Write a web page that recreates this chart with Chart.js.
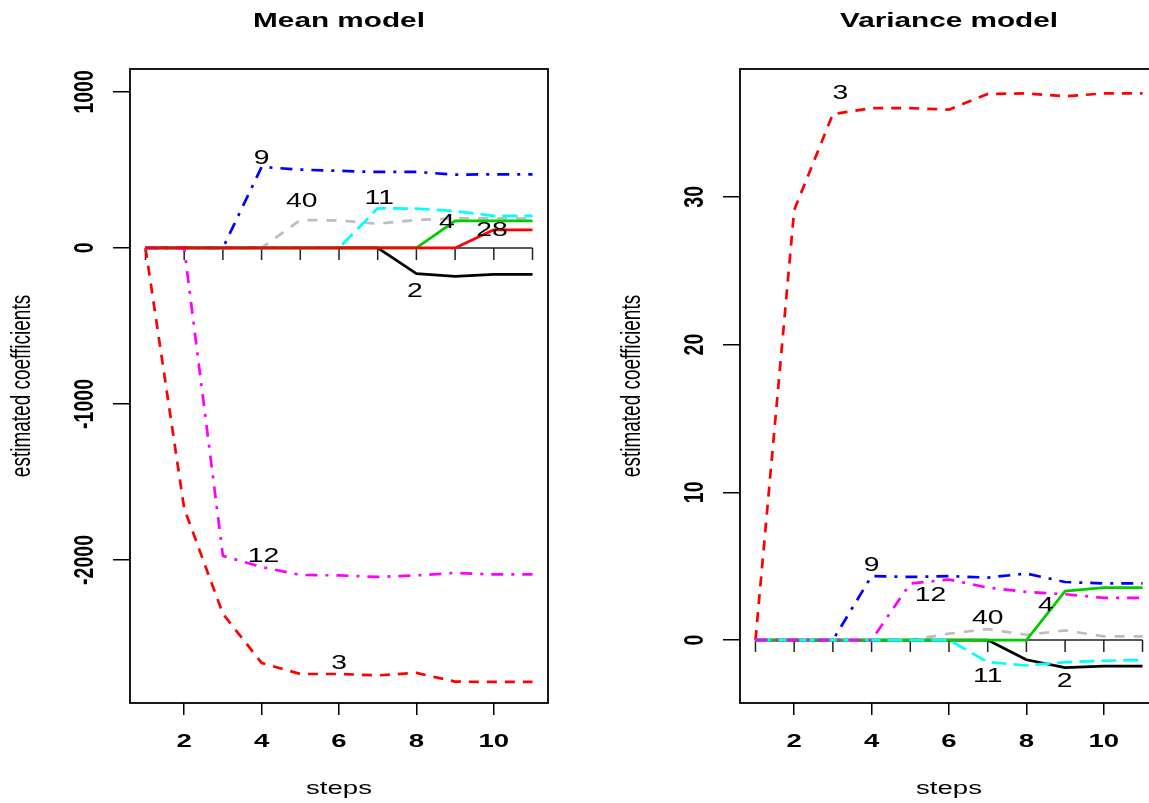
<!DOCTYPE html>
<html>
<head>
<meta charset="utf-8">
<script src="https://cdn.jsdelivr.net/npm/chart.js@4.4.1/dist/chart.umd.min.js"></script>
<style>
  html, body { margin: 0; padding: 0; background: #fff; overflow: hidden; width: 1149px; height: 803px; }
  canvas { position: absolute; top: 0; }
  #mean { left: 0; }
  #variance { left: 610px; }
</style>
</head>
<body>
<canvas id="mean" width="610" height="803"></canvas>
<canvas id="variance" width="610" height="803"></canvas>
<script>
// steps on the x axis
var steps = [1, 2, 3, 4, 5, 6, 7, 8, 9, 10, 11];
var xTickValues = [2, 4, 6, 8, 10];

// Mean model coefficient paths (one array per variable)
var mean2  = [0, 0, 0, 0, 0, 0, 0, -165, -182, -169, -169];
var mean3  = [0, -1670, -2345, -2660, -2731, -2731, -2740, -2724, -2780, -2782, -2782];
var mean4  = [0, 0, 0, 0, 0, 0, 0, 0, 174, 174, 174];
var mean9  = [0, 0, 0, 519, 502, 494, 487, 487, 470, 472, 472];
var mean11 = [0, 0, 0, 0, 0, 0, 254, 252, 236, 206, 206];
var mean12 = [0, 0, -1974, -2045, -2096, -2099, -2109, -2099, -2083, -2093, -2093];
var mean28 = [0, 0, 0, 0, 0, 0, 0, 0, 0, 116, 116];
var mean40 = [0, 0, 0, 0, 179, 176, 155, 180, 189, 189, 189];
var meanYTicks = [-2000, -1000, 0, 1000];
var meanLabelText  = ["9", "40", "11", "4", "28", "12", "3", "2"];
var meanLabelStep  = [4.0, 5.04, 7.04, 8.79, 9.95, 4.05, 6.0, 7.96];
var meanLabelValue = [575, 297, 319, 163, 110, -1977, -2667, -282];

// Variance model coefficient paths
var var2  = [0, 0, 0, 0, 0, 0, 0, -1.33, -1.87, -1.76, -1.76];
var var3  = [0, 29.1, 35.6, 36.0, 36.0, 35.9, 36.96, 37.0, 36.8, 37.0, 37.0];
var var4  = [0, 0, 0, 0, 0, 0, 0, 0, 3.31, 3.55, 3.55];
var var9  = [0, 0, 0, 4.33, 4.27, 4.33, 4.23, 4.5, 3.93, 3.83, 3.83];
var var11 = [0, 0, 0, 0, 0, 0, -1.49, -1.72, -1.5, -1.4, -1.35];
var var12 = [0, 0, 0, 0, 3.83, 4.1, 3.55, 3.26, 3.1, 2.85, 2.85];
var var40 = [0, 0, 0, 0, 0, 0.43, 0.74, 0.36, 0.65, 0.25, 0.25];
var varYTicks = [0, 10, 20, 30];
var varLabelText  = ["3", "9", "12", "40", "4", "11", "2"];
var varLabelStep  = [3.19, 4.0, 5.52, 7.0, 8.5, 7.0, 8.99];
var varLabelValue = [37.0, 5.07, 3.03, 1.45, 2.35, -2.5, -2.84];

// line look per variable
var styles = {
  "2":  { color: "#000000", dash: [] },
  "3":  { color: "#ff0000", dash: [10, 8] },
  "4":  { color: "#00cd00", dash: [] },
  "9":  { color: "#0000ff", dash: [12, 8, 3, 8] },
  "11": { color: "#00ffff", dash: [15, 7] },
  "12": { color: "#ff00ff", dash: [12, 8, 3, 8] },
  "28": { color: "#ff0000", dash: [] },
  "40": { color: "#bebebe", dash: [10, 9] }
};

var SX = 1.45; // the picture is stretched sideways
var FONT = "'Liberation Sans', Arial, sans-serif";

function stretchText(ctx, text, x, y, font, rotate) {
  ctx.save();
  ctx.translate(x, y);
  ctx.scale(SX, 1);
  if (rotate) ctx.rotate(-Math.PI / 2);
  ctx.font = font;
  ctx.fillStyle = "#000";
  ctx.textAlign = "center";
  ctx.textBaseline = "middle";
  ctx.fillText(text, 0, 0);
  ctx.restore();
}

function makeDataset(name, values) {
  var st = styles[name];
  return {
    label: name,
    data: steps.map(function (s, i) { return { x: s, y: values[i] }; }),
    borderColor: st.color,
    borderDash: st.dash,
    borderWidth: 2.7,
    borderCapStyle: "butt",
    borderJoinStyle: "round",
    pointRadius: 0,
    tension: 0,
    fill: false
  };
}

var rDecor = {
  id: "rDecor",
  beforeDatasetsDraw: function (chart) {
    var ctx = chart.ctx, xs = chart.scales.x, ys = chart.scales.y;
    var y0 = ys.getPixelForValue(0);
    ctx.save();
    ctx.strokeStyle = "#222";
    ctx.lineWidth = 1.5;
    ctx.beginPath();
    ctx.moveTo(xs.getPixelForValue(steps[0]), y0);
    ctx.lineTo(xs.getPixelForValue(steps[steps.length - 1]), y0);
    steps.forEach(function (s) {
      var px = xs.getPixelForValue(s);
      ctx.moveTo(px, y0);
      ctx.lineTo(px, y0 + 12);
    });
    ctx.stroke();
    ctx.restore();
  },
  afterDraw: function (chart) {
    var o = chart.config.options.plugins.rDecor;
    var ctx = chart.ctx, a = chart.chartArea, xs = chart.scales.x, ys = chart.scales.y;
    ctx.save();
    ctx.strokeStyle = "#000";
    ctx.lineWidth = 1.8;
    ctx.strokeRect(a.left, a.top, a.right - a.left, a.bottom - a.top);
    ctx.restore();
    var cx = (a.left + a.right) / 2;
    stretchText(ctx, o.title, cx, 21, "bold 20.5px " + FONT, false);
    stretchText(ctx, "steps", cx, 789, "19px " + FONT, false);
    stretchText(ctx, "estimated coefficients", 22, (a.top + a.bottom) / 2, "19px " + FONT, true);
    o.yTicks.forEach(function (v) {
      stretchText(ctx, String(v), 85, ys.getPixelForValue(v), "bold 19.5px " + FONT, true);
    });
    xTickValues.forEach(function (v) {
      stretchText(ctx, String(v), xs.getPixelForValue(v), 742, "bold 19px " + FONT, false);
    });
    o.labelText.forEach(function (t, i) {
      stretchText(ctx, t, xs.getPixelForValue(o.labelStep[i]), ys.getPixelForValue(o.labelValue[i]), "19.5px " + FONT, false);
    });
  }
};

function makeChart(id, datasets, yMin, yMax, opts) {
  return new Chart(document.getElementById(id), {
    type: "line",
    data: { datasets: datasets },
    plugins: [rDecor],
    options: {
      responsive: false,
      animation: false,
      devicePixelRatio: 1,
      layout: { padding: { left: 0, top: 69, right: 62, bottom: 0 } },
      plugins: { legend: { display: false }, tooltip: { enabled: false }, title: { display: false }, rDecor: opts },
      scales: {
        x: {
          type: "linear", min: 0.6, max: 11.4,
          afterBuildTicks: function (s) { s.ticks = xTickValues.map(function (v) { return { value: v }; }); },
          afterFit: function (s) { s.height = 100; },
          ticks: { display: false },
          border: { display: false },
          grid: { drawOnChartArea: false, drawTicks: true, tickLength: 12, color: "#000", lineWidth: 1.5 }
        },
        y: {
          type: "linear", min: yMin, max: yMax,
          afterBuildTicks: function (s) { s.ticks = opts.yTicks.map(function (v) { return { value: v }; }); },
          afterFit: function (s) { s.width = 130; },
          ticks: { display: false },
          border: { display: false },
          grid: { drawOnChartArea: false, drawTicks: true, tickLength: 17, color: "#000", lineWidth: 1.5 }
        }
      }
    }
  });
}

makeChart("mean", [
  makeDataset("28", mean28),
  makeDataset("12", mean12),
  makeDataset("11", mean11),
  makeDataset("4", mean4),
  makeDataset("2", mean2),
  makeDataset("40", mean40),
  makeDataset("9", mean9),
  makeDataset("3", mean3)
], -2917, 1147, { title: "Mean model", yTicks: meanYTicks, labelText: meanLabelText, labelStep: meanLabelStep, labelValue: meanLabelValue });

makeChart("variance", [
  makeDataset("12", var12),
  makeDataset("11", var11),
  makeDataset("4", var4),
  makeDataset("2", var2),
  makeDataset("40", var40),
  makeDataset("9", var9),
  makeDataset("3", var3)
], -4.26, 38.65, { title: "Variance model", yTicks: varYTicks, labelText: varLabelText, labelStep: varLabelStep, labelValue: varLabelValue });
</script>
</body>
</html>
